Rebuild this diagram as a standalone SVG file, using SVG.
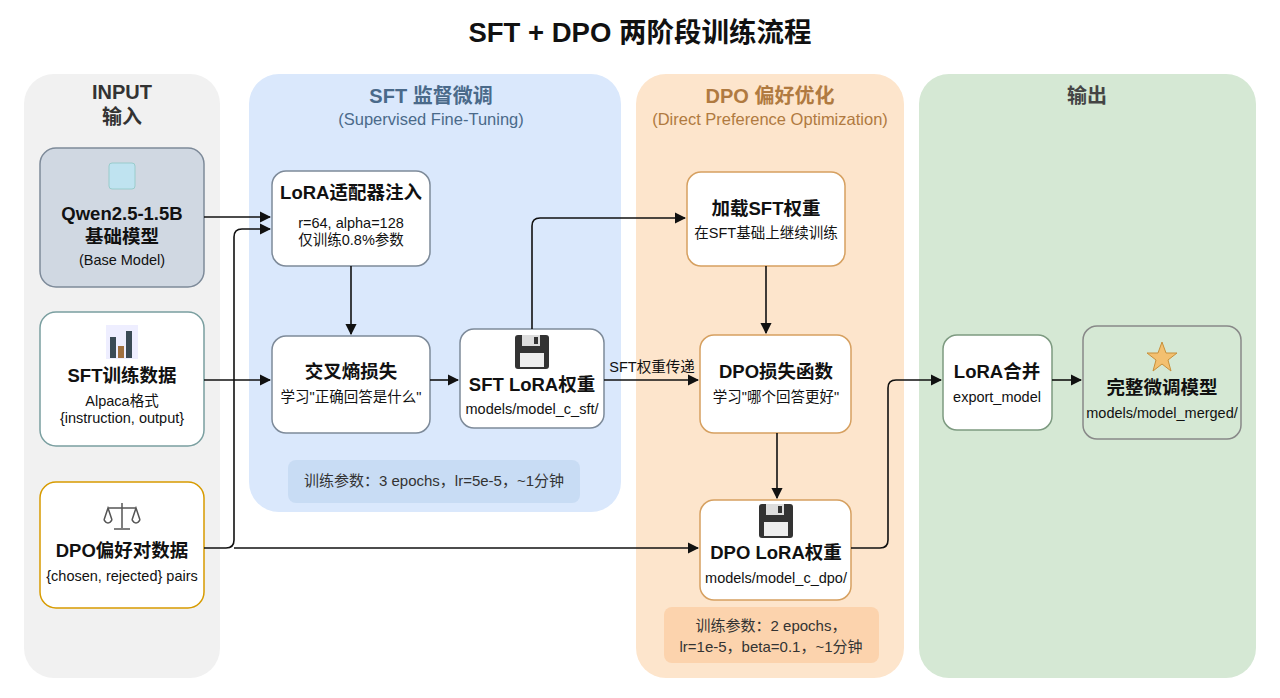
<svg xmlns="http://www.w3.org/2000/svg" width="1280" height="698" viewBox="0 0 1280 698">
<style>
text{font-family:"Liberation Sans","Noto Sans CJK SC",sans-serif;text-anchor:middle;fill:#111}
.t{font-weight:bold;font-size:18.5px}
.s{font-size:14.5px}
.h{font-weight:bold;font-size:20px}
.sub{font-size:16.5px}
.n{stroke-width:1.5}
.c{fill:none;stroke:#111;stroke-width:1.6}
</style>
<defs>
<marker id="a" viewBox="0 0 10 10" refX="9" refY="5" markerWidth="7" markerHeight="7" orient="auto"><path d="M0,0L10,5L0,10z" fill="#111"/></marker>
<g id="floppy"><rect x="-17" y="-17" width="34" height="34" rx="3" fill="#333"/><rect x="-10" y="-17" width="18" height="11" fill="#ddd"/><rect x="2" y="-15" width="4" height="7" fill="#333"/><rect x="-12" y="1" width="24" height="14" fill="#eee"/></g>
</defs>
<rect width="1280" height="698" fill="#fff"/>
<text x="640" y="42" style="font-size:27.5px;font-weight:bold">SFT + DPO 两阶段训练流程</text>
<g id="panels">
<rect x="24" y="74" width="196" height="604" rx="30" fill="#f1f1f1"/>
<rect x="249" y="74" width="372" height="438" rx="30" fill="#dae8fc"/>
<rect x="636" y="74" width="268" height="604" rx="30" fill="#fde5cc"/>
<rect x="919" y="74" width="337" height="604" rx="30" fill="#d5e8d4"/>
<text x="122" y="99" class="h" style="fill:#333">INPUT</text>
<text x="122" y="124" class="h" style="fill:#333">输入</text>
<text x="431" y="103" class="h" style="fill:#4a6a8a">SFT 监督微调</text>
<text x="431" y="125" class="sub" style="fill:#4a6a8a">(Supervised Fine-Tuning)</text>
<text x="770" y="103" class="h" style="fill:#b07a40">DPO 偏好优化</text>
<text x="770" y="125" class="sub" style="fill:#b07a40">(Direct Preference Optimization)</text>
<text x="1087" y="103" class="h" style="fill:#444">输出</text>
</g>
<g id="qwen"><rect x="40" y="148" width="164" height="139" rx="16" fill="#d0d8e2" stroke="#7d8a99" class="n"/>
<rect x="109" y="163" width="26" height="26" rx="3" fill="#bfe3f0" stroke="#9cc" /><text x="122" y="220" class="t">Qwen2.5-1.5B</text><text x="122" y="243" class="t">基础模型</text><text x="122" y="265" class="s">(Base Model)</text></g>
<g id="sftdata"><rect x="40" y="312" width="164" height="134" rx="16" fill="#fff" stroke="#7a9fa0" class="n"/>
<rect x="106" y="325" width="32" height="34" fill="#eef"/><rect x="110" y="337" width="6" height="21" fill="#3a4a55"/><rect x="118" y="346" width="6" height="12" fill="#a0703f"/><rect x="126" y="331" width="6" height="27" fill="#3a4a55"/>
<text x="122" y="382" class="t">SFT训练数据</text><text x="122" y="406" class="s">Alpaca格式</text><text x="122" y="423" class="s">{instruction, output}</text></g>
<g id="dpodata"><rect x="40" y="482" width="164" height="126" rx="16" fill="#fff" stroke="#d79b00" class="n"/>
<g stroke="#555" stroke-width="1.5" fill="none"><path d="M122,503V528M108,508H136M104,520L108,508L112,520M132,520L136,508L140,520M114,529H130"/><path d="M104,520Q108,526 112,520M132,520Q136,526 140,520"/></g>
<text x="122" y="557" class="t">DPO偏好对数据</text><text x="122" y="581" class="s">{chosen, rejected} pairs</text></g>
<g id="lora"><rect x="272" y="171" width="158" height="95" rx="14" fill="#fff" stroke="#7d8a99" class="n"/>
<text x="351" y="199" class="t">LoRA适配器注入</text><text x="351" y="228" class="s">r=64, alpha=128</text><text x="351" y="245" class="s">仅训练0.8%参数</text></g>
<g id="ce"><rect x="272" y="336" width="158" height="97" rx="14" fill="#fff" stroke="#7d8a99" class="n"/>
<text x="351" y="378" class="t">交叉熵损失</text><text x="351" y="402" class="s">学习"正确回答是什么"</text></g>
<g id="sftlora"><rect x="460" y="329" width="144" height="99" rx="14" fill="#fff" stroke="#7d8a99" class="n"/>
<use href="#floppy" x="532" y="352"/><text x="532" y="391" class="t">SFT LoRA权重</text><text x="532" y="414" class="s">models/model_c_sft/</text></g>
<g id="sftparams"><rect x="288" y="460" width="292" height="43" rx="8" fill="#c8dcf4"/><text x="434" y="486" class="s" style="font-size:15px;fill:#333">训练参数：3 epochs，lr=5e-5，~1分钟</text></g>
<g id="load"><rect x="687" y="172" width="158" height="94" rx="14" fill="#fff" stroke="#d6a060" class="n"/>
<text x="766" y="215" class="t">加载SFT权重</text><text x="766" y="238" class="s">在SFT基础上继续训练</text></g>
<g id="dpoloss"><rect x="700" y="335" width="151" height="98" rx="14" fill="#fff" stroke="#d6a060" class="n"/>
<text x="776" y="378" class="t">DPO损失函数</text><text x="776" y="402" class="s">学习"哪个回答更好"</text></g>
<g id="dpolora"><rect x="700" y="500" width="151" height="100" rx="14" fill="#fff" stroke="#d6a060" class="n"/>
<use href="#floppy" x="776" y="521"/><text x="776" y="559" class="t">DPO LoRA权重</text><text x="776" y="583" class="s">models/model_c_dpo/</text></g>
<g id="dpoparams"><rect x="664" y="607" width="215" height="56" rx="8" fill="#fcd3ad"/><text x="771" y="631" class="s" style="font-size:15px;fill:#333">训练参数：2 epochs，</text><text x="771" y="652" class="s" style="font-size:15px;fill:#333">lr=1e-5，beta=0.1，~1分钟</text></g>
<g id="merge"><rect x="943" y="335" width="109" height="95" rx="14" fill="#fff" stroke="#7d9a80" class="n"/>
<text x="997" y="378" class="t">LoRA合并</text><text x="997" y="402" class="s">export_model</text></g>
<g id="full"><rect x="1083" y="326" width="158" height="113" rx="14" fill="#d5e8d4" stroke="#888" class="n"/>
<path d="M1162,342L1166,353L1177,353L1168,360L1171,371L1162,364L1153,371L1156,360L1147,353L1158,353Z" fill="#f3c070" stroke="#c8903a"/>
<text x="1162" y="394" class="t">完整微调模型</text><text x="1162" y="418" class="s">models/model_merged/</text></g>
<g id="connectors">
<path class="c" d="M204,217H270" marker-end="url(#a)"/>
<path class="c" d="M204,548H226Q234,548 234,540V237Q234,229 242,229H270" marker-end="url(#a)"/>
<path class="c" d="M204,380H270" marker-end="url(#a)"/>
<path class="c" d="M351,266V334" marker-end="url(#a)"/>
<path class="c" d="M430,380H458" marker-end="url(#a)"/>
<path class="c" d="M532,329V226Q532,218 540,218H685" marker-end="url(#a)"/>
<path class="c" d="M604,380H698" marker-end="url(#a)"/>
<text x="652" y="372" class="s">SFT权重传递</text>
<path class="c" d="M766,266V333" marker-end="url(#a)"/>
<path class="c" d="M777,433V498" marker-end="url(#a)"/>
<path class="c" d="M234,548H698" marker-end="url(#a)"/>
<path class="c" d="M851,548H880Q888,548 888,540V388Q888,380 896,380H941" marker-end="url(#a)"/>
<path class="c" d="M1052,380H1081" marker-end="url(#a)"/>
</g>
</svg>
